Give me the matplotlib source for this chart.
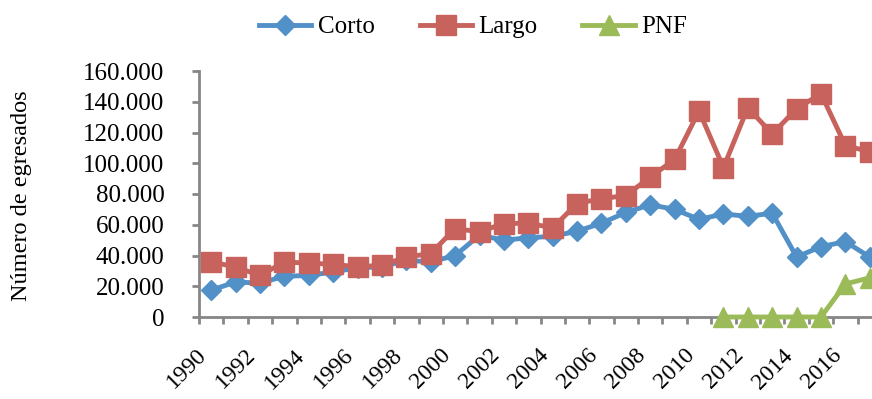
import matplotlib
matplotlib.use("Agg")
import matplotlib.pyplot as plt
from matplotlib.ticker import FuncFormatter, MultipleLocator, FixedLocator
from matplotlib.lines import Line2D

years = list(range(1990, 2018))

corto = [17400, 22800, 22000, 26500, 27000, 29300, 32000, 32600, 36900, 35800,
         40000, 53200, 50000, 51500, 52500, 55800, 61000, 68000, 73000, 70000,
         63500, 67000, 65500, 67500, 39000, 45800, 49000, 39000]

largo = [35800, 32600, 27000, 35800, 35000, 34300, 32600, 33700, 39000, 41300,
         57500, 55400, 60800, 61000, 58000, 73800, 77000, 79000, 91000, 102500,
         134000, 97200, 136200, 119000, 135500, 145200, 111500, 107500]

pnf_years = list(range(2011, 2018))
pnf = [0, 0, 0, 0, 0, 21500, 25500]

blue = '#5290C8'
red = '#C8625D'
green = '#9BBB59'
grey = '#868686'

plt.rcParams['font.family'] = ['Liberation Serif', 'DejaVu Serif']

fig = plt.figure(figsize=(8.72, 3.99), dpi=100)
ax = fig.add_axes([199 / 872, 82 / 399, 683 / 872, 246 / 399])

xi = list(range(len(years)))
px = [years.index(y) for y in pnf_years]

ax.plot(xi, corto, color=blue, lw=3.5, marker='D', ms=10, clip_on=False, zorder=3)
ax.plot(xi, largo, color=red, lw=3.5, marker='s', ms=14, clip_on=False, zorder=4)
ax.plot(px, pnf, color=green, lw=3.5, marker='^', ms=14, clip_on=False, zorder=5)

ax.set_xlim(-0.5, len(years) - 0.5)
ax.set_ylim(0, 160000)

# y axis
ax.yaxis.set_major_locator(MultipleLocator(20000))
ax.yaxis.set_major_formatter(FuncFormatter(lambda v, p: f"{int(v):,}".replace(",", ".")))

# x axis: labels every other year at category centres, ticks at boundaries
ax.xaxis.set_major_locator(FixedLocator(xi[::2]))
ax.set_xticklabels([str(y) for y in years[::2]], rotation=45, ha='right', va='top')
ax.xaxis.set_minor_locator(FixedLocator([i - 0.5 for i in range(len(years) + 1)]))
ax.tick_params(axis='x', which='major', length=0, pad=20, labelsize=17)
ax.tick_params(axis='x', which='minor', length=5, width=2, color=grey, direction='out')
ax.tick_params(axis='y', which='major', length=5, width=2, color=grey, direction='out',
               pad=20, labelsize=18)

for s in ['top', 'right']:
    ax.spines[s].set_visible(False)
for s in ['left', 'bottom']:
    ax.spines[s].set_color(grey)
    ax.spines[s].set_linewidth(2)

fig.text(22 / 872, 1 - 196 / 399, 'Número de egresados', rotation=90,
         ha='center', va='center', fontsize=17.5)

handles = [
    Line2D([], [], color=blue, lw=3.5, marker='D', ms=10),
    Line2D([], [], color=red, lw=3.5, marker='s', ms=14),
    Line2D([], [], color=green, lw=3.5, marker='^', ms=14),
]
fig.legend(handles, ['Corto', 'Largo', 'PNF'], loc='center',
           bbox_to_anchor=(473 / 872, 1 - 27 / 399), ncol=3, frameon=False,
           fontsize=18, handlelength=2.1, handletextpad=0.25, columnspacing=1.8)

fig.savefig('out.png', dpi=100, facecolor='white')
